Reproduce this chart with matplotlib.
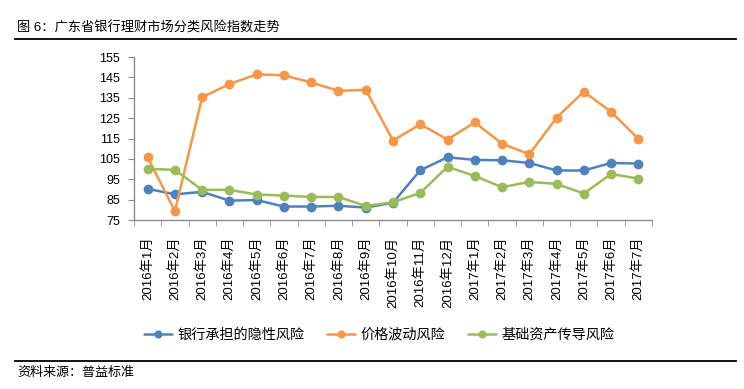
import matplotlib
matplotlib.use("Agg")
import matplotlib.pyplot as plt
import numpy as np

plt.rcParams['font.family'] = ['Liberation Sans', 'Noto Sans CJK SC', 'DejaVu Sans']

# data
months = ['2016年1月', '2016年2月', '2016年3月', '2016年4月', '2016年5月', '2016年6月',
          '2016年7月', '2016年8月', '2016年9月', '2016年10月', '2016年11月', '2016年12月',
          '2017年1月', '2017年2月', '2017年3月', '2017年4月', '2017年5月', '2017年6月',
          '2017年7月']
bank_risk = [90.3, 87.6, 88.8, 84.5, 84.8, 81.6, 81.6, 82.0, 81.1, 83.5, 99.4, 105.8,
             104.5, 104.3, 103.0, 99.3, 99.3, 103.0, 102.7]
price_risk = [105.8, 79.4, 135.3, 141.7, 146.5, 146.0, 142.5, 138.4, 138.9, 114.0, 122.0,
              114.5, 122.9, 112.4, 107.3, 125.2, 138.0, 128.1, 114.8]
asset_risk = [100.1, 99.6, 89.8, 89.8, 87.5, 87.0, 86.3, 86.3, 81.9, 83.7, 88.3, 101.1,
              96.6, 91.1, 93.7, 92.7, 88.0, 97.6, 95.3]
series_names = ['银行承担的隐性风险', '价格波动风险', '基础资产传导风险']
y_ticks = [75, 85, 95, 105, 115, 125, 135, 145, 155]

colors = ['#4F81BD', '#F79646', '#9BBB59']
axis_gray = '#8C8C8C'

W, H = 744, 389
fig = plt.figure(figsize=(W / 100, H / 100), dpi=100)
ax = fig.add_axes([134 / W, 1 - 220 / H, (652 - 134) / W, (220 - 57) / H])

x = np.arange(len(months))
for vals, name, c in zip([bank_risk, price_risk, asset_risk], series_names, colors):
    ax.plot(x, vals, color=c, lw=1.8, marker='o', markersize=6, label=name,
            solid_capstyle='round')

ax.set_xlim(-0.5, len(months) - 0.5)
ax.set_ylim(75, 155)
ax.set_yticks(y_ticks)
ax.set_yticklabels([str(v) for v in y_ticks], fontsize=9)

# category labels centred, tick marks between categories
ax.set_xticks(x)
ax.set_xticklabels(months, rotation=90, fontsize=9.5, va='top', ha='center')
ax.set_xticks(np.arange(-0.5, len(months)), minor=True)
ax.tick_params(axis='x', which='major', length=0, pad=12)
ax.tick_params(axis='x', which='minor', length=4, color=axis_gray, direction='out')
ax.tick_params(axis='y', length=4, color=axis_gray, direction='out', pad=6)

for s in ['top', 'right']:
    ax.spines[s].set_visible(False)
for s in ['left', 'bottom']:
    ax.spines[s].set_color(axis_gray)
    ax.spines[s].set_linewidth(1.0)

leg = fig.legend(loc='center', bbox_to_anchor=(379 / W, 1 - 335 / H), ncol=3,
                 frameon=False, fontsize=10.2, handlelength=2.0, handletextpad=0.35,
                 columnspacing=1.6, markerscale=0.8)

# title, rules and source
fig.text(17 / W, 1 - 28 / H, '图 6：广东省银行理财市场分类风险指数走势', fontsize=9.5,
         ha='left', va='center')
fig.add_artist(plt.Line2D([15 / W, 736 / W], [1 - 38.5 / H, 1 - 38.5 / H], color='black', lw=1.3))
fig.add_artist(plt.Line2D([15 / W, 736 / W], [1 - 361 / H, 1 - 361 / H], color='black', lw=1.3))
fig.text(17 / W, 1 - 373 / H, '资料来源：普益标准', fontsize=9.4, ha='left', va='center')

fig.savefig('out.png', dpi=100)
